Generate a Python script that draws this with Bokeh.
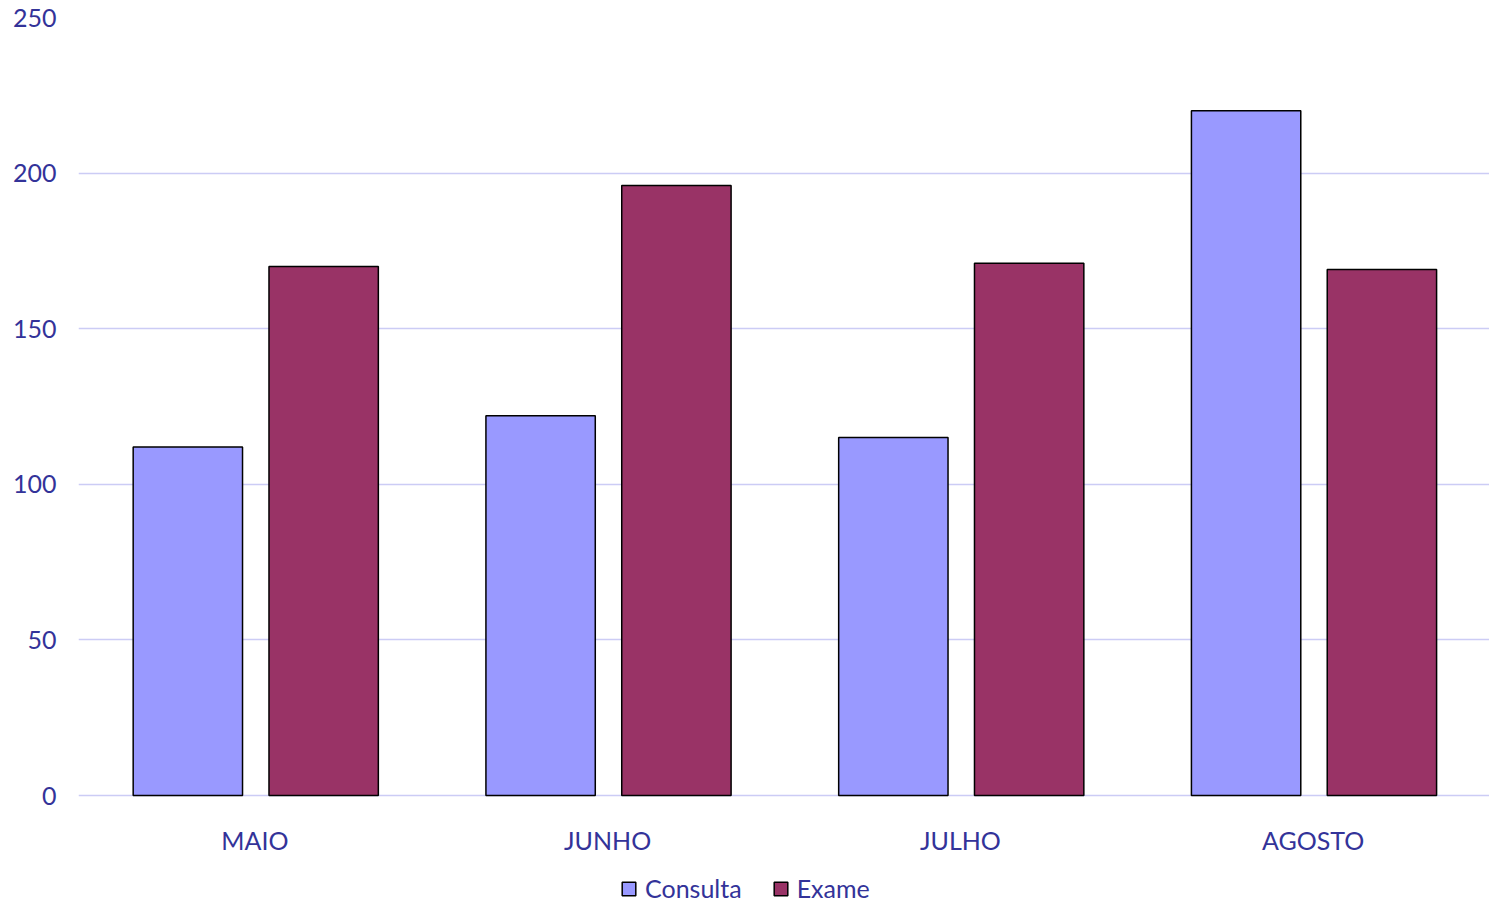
from bokeh.plotting import figure
from bokeh.models import (FactorRange, Range1d, Legend, LegendItem, FixedTicker,
                          ColumnDataSource)
from bokeh.core.properties import value
from bokeh.transform import dodge
from bokeh.embed import file_html
from bokeh.resources import INLINE

months = ["MAIO", "JUNHO", "JULHO", "AGOSTO"]
consulta = [112, 122, 115, 220]
exame = [170, 196, 171, 169]
series_names = ["Consulta", "Exame"]
y_ticks = [0, 50, 100, 150, 200, 250]

TEXT = "#333399"
FONT = "Lato"
FS = "25px"

# layout (pixels)
PLOT_H = 778          # height of the 0..250 value area
BELOW_H = 110         # space under the zero line for category labels and legend
LABEL_DY = 44         # category label centre below the zero line
px_per_unit = PLOT_H / (y_ticks[-1] - y_ticks[0])
y_min = -BELOW_H / px_per_unit
label_y = -LABEL_DY / px_per_unit

src = ColumnDataSource(dict(month=months, consulta=consulta, exame=exame,
                            label_y=[label_y] * len(months)))

p = figure(x_range=FactorRange(*months, range_padding=0),
           y_range=Range1d(y_min, y_ticks[-1]),
           frame_width=1411, frame_height=PLOT_H + BELOW_H,
           output_backend="svg", toolbar_location=None,
           min_border_left=78, min_border_right=0, min_border_top=17, min_border_bottom=0)

r1 = p.vbar(x=dodge("month", -0.19, range=p.x_range), top="consulta", bottom=0, width=0.31,
            source=src, fill_color="#9999FF", line_color="black", line_width=1.5)
r2 = p.vbar(x=dodge("month", 0.195, range=p.x_range), top="exame", bottom=0, width=0.31,
            source=src, fill_color="#993366", line_color="black", line_width=1.5)

p.text(x="month", y="label_y", text="month", source=src, text_align="center",
       text_baseline="middle", text_color=TEXT, text_font=value(FONT), text_font_size=FS)

p.outline_line_color = None
p.xgrid.grid_line_color = None
p.xaxis.visible = False
p.ygrid.ticker = FixedTicker(ticks=y_ticks)
p.ygrid.grid_line_color = "#CCCCF5"
p.ygrid.grid_line_width = 1.5

ya = p.yaxis[0]
ya.ticker = FixedTicker(ticks=y_ticks)
ya.axis_line_color = None
ya.major_tick_line_color = None
ya.minor_tick_line_color = None
ya.major_tick_out = 0
ya.major_tick_in = 0
ya.major_label_standoff = 22
ya.major_label_text_color = TEXT
ya.major_label_text_font = FONT
ya.major_label_text_font_size = FS

legend = Legend(items=[LegendItem(label=series_names[0], renderers=[r1]),
                       LegendItem(label=series_names[1], renderers=[r2])],
                orientation="horizontal", location=(542, 2),
                border_line_alpha=0, background_fill_alpha=0,
                label_text_color=TEXT, label_text_font=FONT, label_text_font_size=FS,
                label_height=24, glyph_width=17, glyph_height=17, spacing=30,
                label_standoff=8, margin=0, padding=0)
p.add_layout(legend, "center")

open("out.html", "w").write(file_html(p, INLINE))
